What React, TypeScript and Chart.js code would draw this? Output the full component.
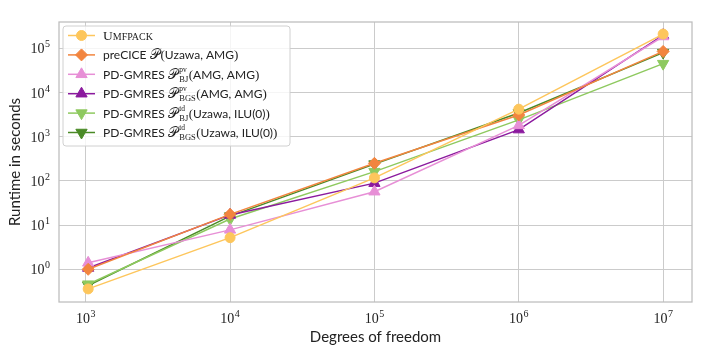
import React, { useEffect, useRef } from 'react';
import { Chart, registerables } from 'chart.js';
import { drawPoint } from 'chart.js/helpers';

Chart.register(...registerables);

// ---- data ----
const dofs = [1040, 1e4, 1e5, 1e6, 1e7];
const umfpack = [0.36, 5.2, 117, 4200, 210000];
const precice = [1.0, 17.5, 250, 3100, 85000];
const pdBjPv = [1.4, 7.8, 57, 1800, 185000];
const pdBgsPv = [1.07, 17, 89, 1450, 198000];
const pdBjTd = [0.46, 13.7, 162, 2400, 45000];
const pdBgsTd = [0.43, 16, 240, 3450, 80000];
const xTickValues = [1e3, 1e4, 1e5, 1e6, 1e7];
const yTickValues = [1, 10, 100, 1e3, 1e4, 1e5];

const SANS = '"Lato", "DejaVu Sans", sans-serif';
const SERIF = '"Liberation Serif", "DejaVu Serif", serif';

const colors = ['#fdc65c', '#f2853f', '#e78fd6', '#8b1a9e', '#8ec95f', '#4a8a26'];
const styles: any[] = ['circle', 'rectRot', 'triangle', 'triangle', 'triangle', 'triangle'];
const rotations = [0, 0, 0, 0, 180, 180];
const radii = [5, 6, 6.5, 6.5, 6.5, 6.5];
const seriesData = [umfpack, precice, pdBjPv, pdBgsPv, pdBjTd, pdBgsTd];
const seriesNames = [
  'Umfpack',
  'preCICE P(Uzawa, AMG)',
  'PD-GMRES P_BJ^pv(AMG, AMG)',
  'PD-GMRES P_BGS^pv(AMG, AMG)',
  'PD-GMRES P_BJ^td(Uzawa, ILU(0))',
  'PD-GMRES P_BGS^td(Uzawa, ILU(0))',
];

type Seg = { t?: string; f?: string; sup?: string; sub?: string; gap?: number };
const LF = `12px ${SANS}`;
const SCRIPT = `14px "DejaVu Serif", "DejaVu Sans", serif`;
const PAREN = `13px ${SERIF}`;
const legendRows: Seg[][] = [
  [{ t: 'U', f: `13.5px ${SERIF}` }, { t: 'MFPACK', f: `10px ${SERIF}` }],
  [{ t: 'preCICE ', f: LF }, { t: '𝒫', f: SCRIPT, gap: 1 }, { t: '(', f: PAREN }, { t: 'Uzawa, AMG', f: LF }, { t: ')', f: PAREN }],
  [{ t: 'PD-GMRES ', f: LF }, { t: '𝒫', f: SCRIPT, gap: 1.5 }, { sup: 'pv', sub: 'BJ' }, { t: '(', f: PAREN }, { t: 'AMG, AMG', f: LF }, { t: ')', f: PAREN }],
  [{ t: 'PD-GMRES ', f: LF }, { t: '𝒫', f: SCRIPT, gap: 1.5 }, { sup: 'pv', sub: 'BGS' }, { t: '(', f: PAREN }, { t: 'AMG, AMG', f: LF }, { t: ')', f: PAREN }],
  [{ t: 'PD-GMRES ', f: LF }, { t: '𝒫', f: SCRIPT, gap: 1.5 }, { sup: 'td', sub: 'BJ' }, { t: '(', f: PAREN }, { t: 'Uzawa, ILU(0)', f: LF }, { t: ')', f: PAREN }],
  [{ t: 'PD-GMRES ', f: LF }, { t: '𝒫', f: SCRIPT, gap: 1.5 }, { sup: 'td', sub: 'BGS' }, { t: '(', f: PAREN }, { t: 'Uzawa, ILU(0)', f: LF }, { t: ')', f: PAREN }],
];

function drawRich(ctx: CanvasRenderingContext2D, x: number, y: number, segs: Seg[]) {
  let cx = x;
  ctx.textBaseline = 'alphabetic';
  ctx.textAlign = 'left';
  for (const s of segs) {
    if (s.t !== undefined) {
      ctx.font = s.f || LF;
      ctx.fillText(s.t, cx, y);
      cx += ctx.measureText(s.t).width + (s.gap || 0);
    } else {
      ctx.font = `7.5px ${SERIF}`;
      const w1 = ctx.measureText(s.sup || '').width;
      ctx.fillText(s.sup || '', cx, y - 7);
      ctx.font = `8.5px ${SERIF}`;
      const w2 = ctx.measureText(s.sub || '').width;
      ctx.fillText(s.sub || '', cx, y + 3);
      cx += Math.max(w1, w2) + 0.5;
    }
  }
}

const overlayPlugin = {
  id: 'overlay',
  afterDraw(chart: any) {
    const { ctx, chartArea: a, scales } = chart;
    ctx.save();
    // frame
    ctx.strokeStyle = '#bdbdbd';
    ctx.lineWidth = 1.25;
    ctx.strokeRect(a.left, a.top, a.right - a.left, a.bottom - a.top);

    // tick labels with superscripts
    ctx.fillStyle = '#222';
    const drawPow = (px: number, py: number, exp: number, align: 'center' | 'right') => {
      ctx.font = `14px ${SERIF}`;
      const wb = ctx.measureText('10').width;
      ctx.font = `10px ${SERIF}`;
      const we = ctx.measureText(String(exp)).width;
      const total = wb + we + 0.5;
      const x0 = align === 'center' ? px - total / 2 : px - total;
      ctx.textAlign = 'left';
      ctx.textBaseline = 'alphabetic';
      ctx.font = `14px ${SERIF}`;
      ctx.fillText('10', x0, py + 5);
      ctx.font = `10px ${SERIF}`;
      ctx.fillText(String(exp), x0 + wb + 0.5, py - 1);
    };
    for (const t of scales.x.ticks) {
      const px = scales.x.getPixelForValue(t.value);
      drawPow(px, 318, Math.round(Math.log10(t.value)), 'center');
    }
    for (const t of scales.y.ticks) {
      const py = scales.y.getPixelForValue(t.value);
      drawPow(50, py, Math.round(Math.log10(t.value)), 'right');
    }

    // legend
    const bx = 63, by = 26, bw = 227, bh = 120, r = 3;
    ctx.beginPath();
    ctx.moveTo(bx + r, by);
    ctx.arcTo(bx + bw, by, bx + bw, by + bh, r);
    ctx.arcTo(bx + bw, by + bh, bx, by + bh, r);
    ctx.arcTo(bx, by + bh, bx, by, r);
    ctx.arcTo(bx, by, bx + bw, by, r);
    ctx.closePath();
    ctx.fillStyle = 'rgba(255,255,255,0.8)';
    ctx.fill();
    ctx.strokeStyle = '#d0d0d0';
    ctx.lineWidth = 1;
    ctx.stroke();

    chart.data.datasets.forEach((ds: any, i: number) => {
      const y = 35.5 + i * 19.4;
      ctx.strokeStyle = ds.borderColor;
      ctx.lineWidth = 1.5;
      ctx.beginPath();
      ctx.moveTo(68, y);
      ctx.lineTo(95, y);
      ctx.stroke();
      ctx.fillStyle = ds.pointBackgroundColor;
      ctx.strokeStyle = ds.pointBorderColor;
      ctx.lineWidth = 1;
      drawPoint(ctx, { pointStyle: ds.pointStyle, rotation: ds.pointRotation, radius: ds.pointRadius, borderWidth: 1 }, 81.5, y);
      ctx.fillStyle = '#222';
      drawRich(ctx, 103, y + 4.5, legendRows[i]);
    });
    ctx.restore();
  },
};

export default function App() {
  const ref = useRef<HTMLCanvasElement>(null);
  useEffect(() => {
    if (!ref.current) return;
    const datasets = seriesData.map((d, i) => ({
      label: seriesNames[i],
      data: dofs.map((x, k) => ({ x, y: d[k] })),
      borderColor: colors[i],
      backgroundColor: colors[i],
      pointBackgroundColor: colors[i],
      pointBorderColor: colors[i],
      pointStyle: styles[i],
      pointRotation: rotations[i],
      pointRadius: radii[i],
      pointBorderWidth: 1,
      borderWidth: 1.5,
      tension: 0,
    }));
    const grid = { color: '#cbcbcb', lineWidth: 1, drawTicks: false, tickLength: 0 };
    const chart = new Chart(ref.current, {
      type: 'line',
      data: { datasets },
      options: {
        animation: false,
        responsive: true,
        maintainAspectRatio: false,
        devicePixelRatio: 1,
        layout: { padding: { left: 0, right: 14, top: 22, bottom: 0 } },
        plugins: { legend: { display: false }, tooltip: { enabled: false } },
        scales: {
          x: {
            type: 'logarithmic',
            min: 653,
            max: 1.585e7,
            afterBuildTicks: (s: any) => { s.ticks = xTickValues.map((v) => ({ value: v })); },
            afterFit: (s: any) => { s.height = 52; },
            ticks: { display: false },
            grid,
            border: { display: false },
            title: { display: true, text: 'Degrees of freedom', color: '#222', font: { family: SANS, size: 15 }, padding: { top: 0, bottom: 8 } },
          },
          y: {
            type: 'logarithmic',
            min: 0.182,
            max: 3.94e5,
            afterBuildTicks: (s: any) => { s.ticks = yTickValues.map((v) => ({ value: v })); },
            afterFit: (s: any) => { s.width = 59; },
            ticks: { display: false },
            grid,
            border: { display: false },
            title: { display: true, text: 'Runtime in seconds', color: '#222', font: { family: SANS, size: 15 }, padding: { top: 6, bottom: 0 } },
          },
        },
      },
      plugins: [overlayPlugin],
    } as any);
    return () => chart.destroy();
  }, []);
  return (
    <div style={{ position: 'fixed', left: 0, top: 0, width: 706, height: 354, background: '#fff' }}>
      <canvas ref={ref} />
    </div>
  );
}
